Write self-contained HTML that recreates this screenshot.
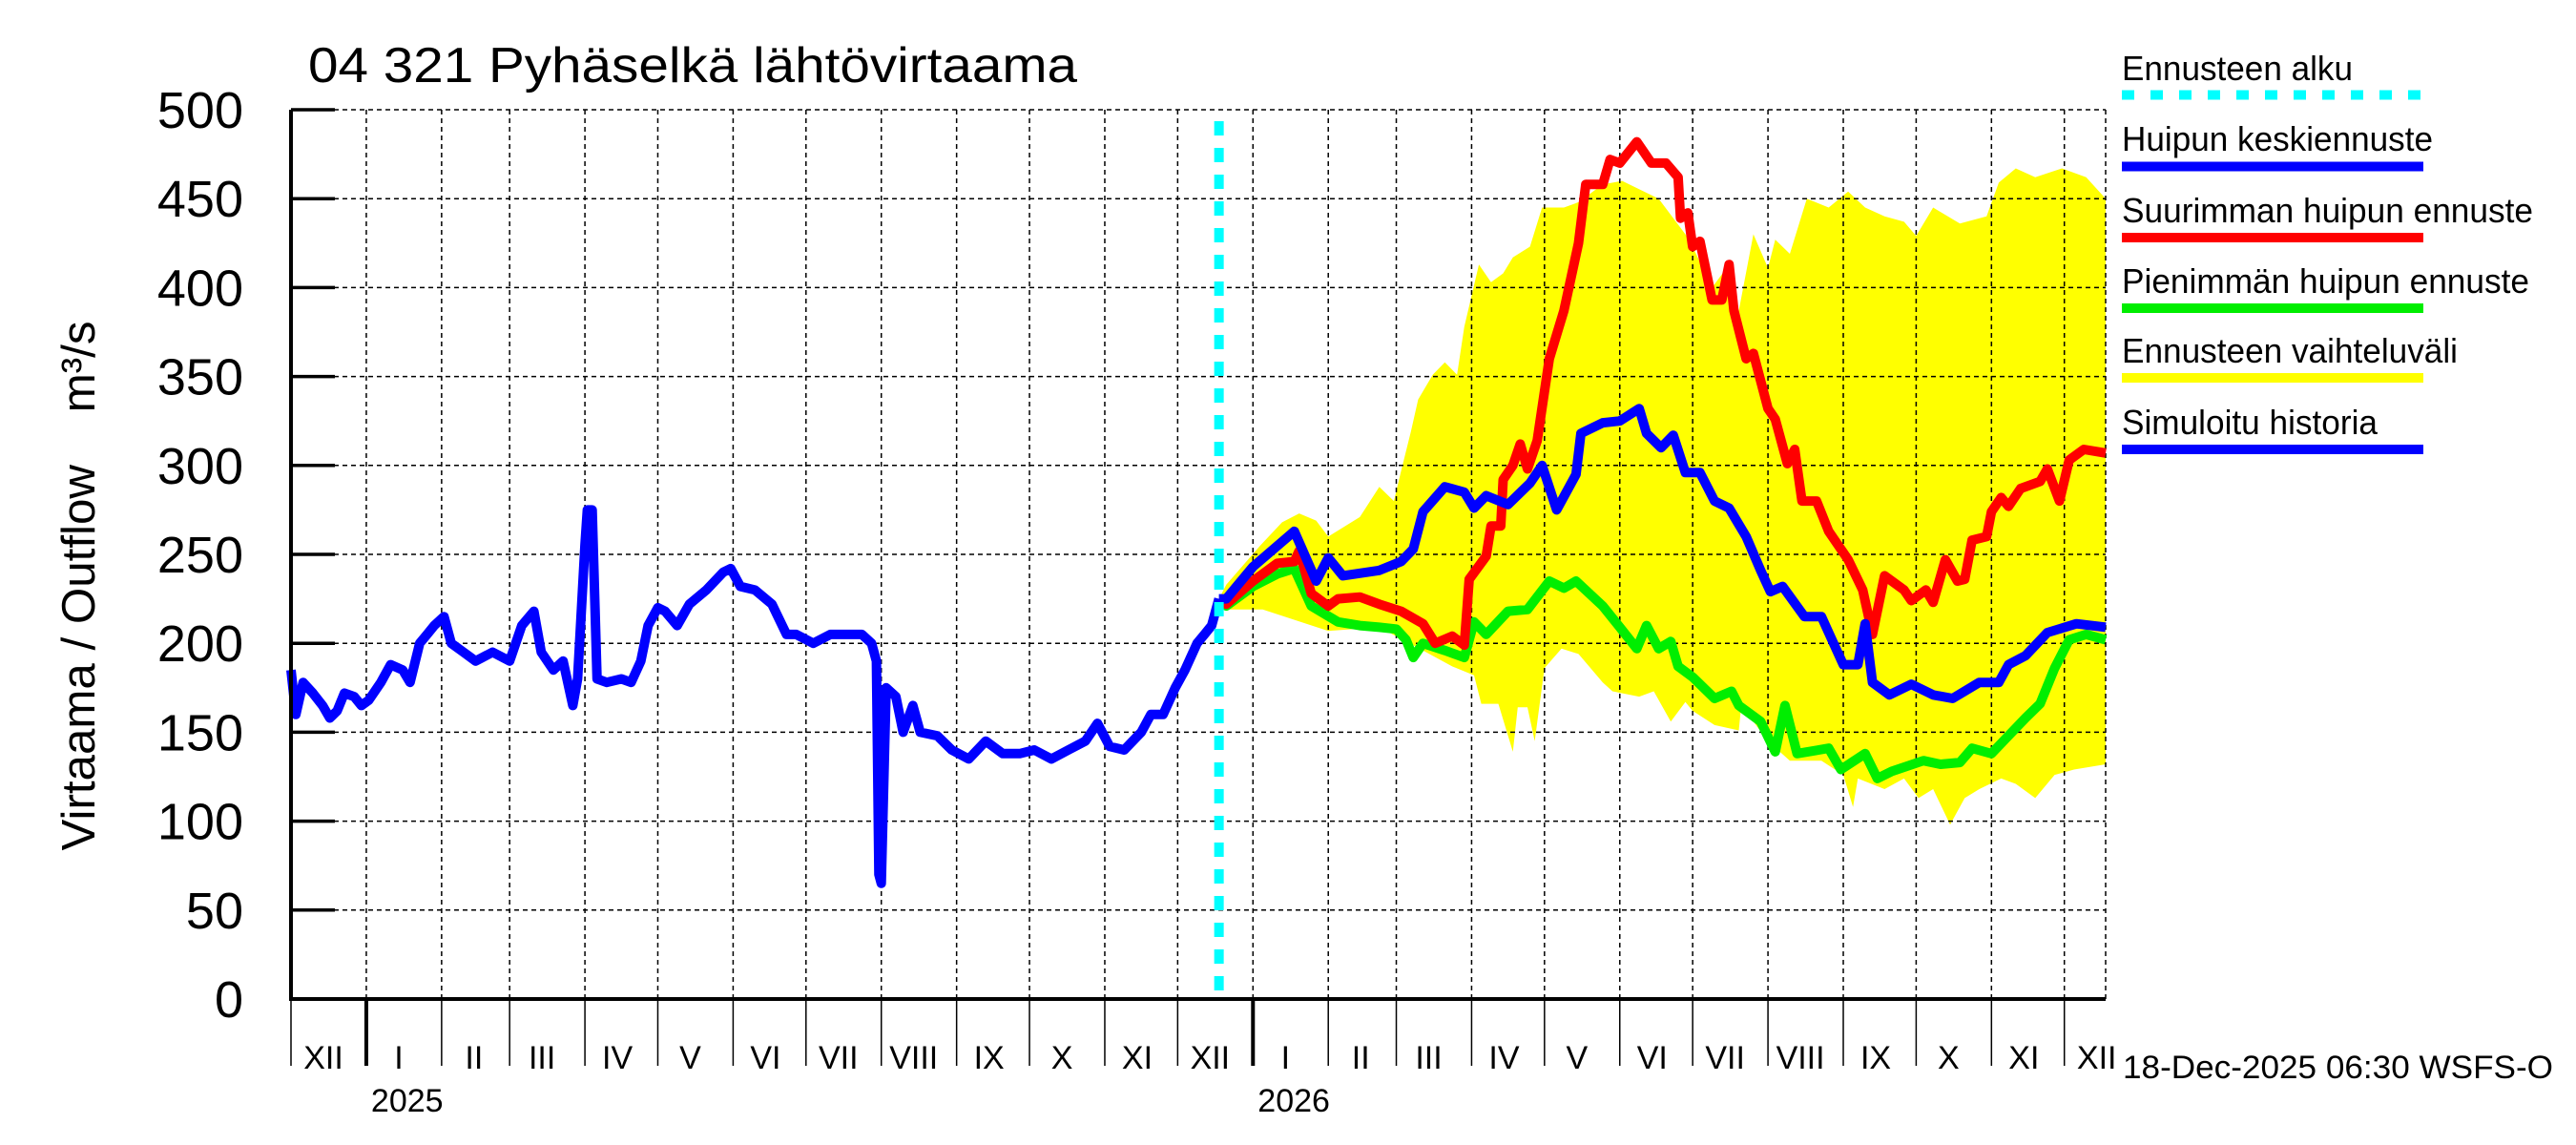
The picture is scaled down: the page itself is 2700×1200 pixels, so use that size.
<!DOCTYPE html>
<html><head><meta charset="utf-8"><style>
html,body{margin:0;padding:0;background:#fff;}
svg{display:block;font-family:"Liberation Sans",Arial,sans-serif;}
</style></head><body>
<svg id="chart" width="2700" height="1200" viewBox="0 0 2700 1200" xmlns="http://www.w3.org/2000/svg">
<rect x="0" y="0" width="2700" height="1200" fill="#fff"/>
<text x="323" y="86" font-size="52" textLength="806" lengthAdjust="spacingAndGlyphs">04 321 Pyhäselkä lähtövirtaama</text>
<text transform="translate(99,614) rotate(-90)" text-anchor="middle" font-size="49" textLength="555" lengthAdjust="spacingAndGlyphs" style="white-space:pre" xml:space="preserve">Virtaama / Outflow    m³/s</text>
<g id="band"></g>
<g id="grid"></g>
<g id="series"></g>
<g id="axes"></g>
<g id="legend">
<text x="2224" y="84" font-size="36" textLength="242" lengthAdjust="spacingAndGlyphs">Ennusteen alku</text>
<line x1="2224" y1="99.5" x2="2540" y2="99.5" stroke="#00ffff" stroke-width="10" stroke-dasharray="13,17"/>
<text x="2224" y="158" font-size="36" textLength="326" lengthAdjust="spacingAndGlyphs">Huipun keskiennuste</text>
<line x1="2224" y1="174.5" x2="2540" y2="174.5" stroke="#0000ff" stroke-width="10"/>
<text x="2224" y="233" font-size="36" textLength="431" lengthAdjust="spacingAndGlyphs">Suurimman huipun ennuste</text>
<line x1="2224" y1="249" x2="2540" y2="249" stroke="#ff0000" stroke-width="10"/>
<text x="2224" y="307" font-size="36" textLength="427" lengthAdjust="spacingAndGlyphs">Pienimmän huipun ennuste</text>
<line x1="2224" y1="323" x2="2540" y2="323" stroke="#00ee00" stroke-width="10"/>
<text x="2224" y="380" font-size="36" textLength="352" lengthAdjust="spacingAndGlyphs">Ennusteen vaihteluväli</text>
<line x1="2224" y1="396" x2="2540" y2="396" stroke="#ffff00" stroke-width="10"/>
<text x="2224" y="455" font-size="36" textLength="268" lengthAdjust="spacingAndGlyphs">Simuloitu historia</text>
<line x1="2224" y1="471" x2="2540" y2="471" stroke="#0000ff" stroke-width="10"/>
</g>
<text x="2225" y="1130" font-size="34" textLength="451" lengthAdjust="spacingAndGlyphs">18-Dec-2025 06:30 WSFS-O</text>
</svg>
<script>
// ---- data (day offsets from 1 Dec 2024, values m3/s) ----
const histDays = [0,2,5,9,13,16,19,22,26,29,32,37,41,46,49,53,56,59,63,66,71,76,83,90,95,100,103,108,112,116,118,121,122,124,126,130,136,140,144,147,151,154,159,164,171,178,181,185,191,198,204,208,215,222,229,235,239,241,242,243,245,249,252,256,259,266,272,279,286,293,300,306,313,320,327,332,337,343,350,354,359,364,368,373,376,379,382];
const histVals = [185,160,178,172,165,158,162,172,170,165,168,178,188,185,178,200,205,210,215,200,195,190,195,190,210,218,195,185,190,165,180,255,275,275,180,178,180,178,190,210,220,218,210,222,230,240,242,232,230,222,205,205,200,205,205,205,200,190,70,65,175,170,150,165,150,148,140,135,145,138,138,140,135,140,145,155,142,140,150,160,160,175,185,200,205,210,225];
const meanDays = [382,385,396,413,422,427,433,448,457,462,466,475,483,487,492,501,510,515,521,529,531,540,547,555,558,564,569,574,580,586,592,599,605,609,614,623,630,633,639,645,648,651,658,667,676,684,695,703,707,714,723,735,747];
const meanVals = [225,225,243,263,235,248,238,241,246,253,274,288,285,276,283,278,290,300,275,295,318,324,325,332,318,310,317,296,296,280,276,260,241,229,232,215,215,206,188,188,211,178,171,177,171,169,178,178,188,193,206,211,209];
const maxDays = [382,385,396,406,413,415,420,427,431,440,448,457,466,471,478,483,485,492,494,498,499,503,506,509,513,518,524,530,533,540,543,547,554,560,566,571,572,575,577,580,585,589,592,594,599,602,608,611,616,619,622,628,633,637,641,647,651,656,664,667,673,676,681,686,689,692,698,700,704,707,712,720,723,728,732,738,747];
const maxVals = [225,222,235,245,246,252,228,221,225,226,222,218,211,200,204,199,236,249,266,266,292,300,312,298,314,360,387,425,458,458,472,470,482,470,470,462,439,442,423,426,393,393,413,387,360,363,332,326,301,309,280,280,263,255,247,230,205,238,230,224,230,223,247,235,236,258,260,274,282,277,287,291,298,280,303,309,307];
const minDays = [382,385,396,406,413,420,431,440,448,455,459,462,466,475,483,487,492,501,509,518,524,529,540,547,554,558,563,568,571,577,586,593,596,605,611,615,620,633,638,648,653,659,672,679,687,692,700,707,714,720,726,732,739,747];
const minVals = [225,221,232,239,242,221,212,210,209,208,202,192,200,196,192,212,205,218,219,235,231,235,221,209,197,210,197,201,187,181,169,173,165,156,139,165,138,141,129,138,124,128,134,132,133,141,138,148,158,166,186,202,205,202];
const upDays = [382,385,399,408,415,422,427,440,448,454,457,461,464,470,475,480,483,489,494,499,503,510,515,524,530,540,548,563,574,577,585,592,596,602,608,611,617,624,633,641,648,656,664,669,676,687,698,703,710,718,729,739,747];
const upVals = [225,233,255,268,273,269,260,271,288,280,297,319,337,351,358,351,378,413,403,408,417,423,445,445,448,458,460,450,430,423,400,413,387,430,411,427,419,450,445,454,445,440,437,429,445,436,440,459,467,462,467,462,450];
const loDays = [382,385,400,427,448,466,478,487,490,497,503,505,509,512,516,523,530,540,544,555,561,568,574,577,586,596,597,608,617,630,639,643,645,656,664,670,676,683,689,695,704,710,718,726,734,747];
const loVals = [225,219,219,207,209,196,187,182,166,166,139,164,164,145,186,197,194,178,173,170,173,156,167,162,154,151,165,145,134,134,126,108,124,118,124,113,118,98,113,118,124,121,113,126,129,132];
const forecastStartDay = 382;
const monthStarts = [0,31,62,90,121,151,182,212,243,274,304,335,365,396,427,455,486,516,547,577,608,639,669,700,730];
const monthLabels = ["XII","I","II","III","IV","V","VI","VII","VIII","IX","X","XI","XII","I","II","III","IV","V","VI","VII","VIII","IX","X","XI","XII"];
const yearDays = [31,396];
const yearLabels = ["2025","2026"];
const yTicks = [0,50,100,150,200,250,300,350,400,450,500];

// ---- scales ----
const X0=305, X1=2207, Y0=1047, Y1=115, DMAX=747, VMAX=500;
const xs = d => X0 + d*(X1-X0)/DMAX;
const ys = v => Y0 - v*(Y0-Y1)/VMAX;
const NS="http://www.w3.org/2000/svg";
function mk(tag, attrs, parent){const e=document.createElementNS(NS,tag);for(const k in attrs)e.setAttribute(k,attrs[k]);parent.appendChild(e);return e;}
const grid=document.getElementById('grid'), axes=document.getElementById('axes'), series=document.getElementById('series'), band=document.getElementById('band');

// band
let pts=[];
for(let i=0;i<upDays.length;i++)pts.push(xs(upDays[i]).toFixed(1)+","+ys(upVals[i]).toFixed(1));
for(let i=loDays.length-1;i>=0;i--)pts.push(xs(loDays[i]).toFixed(1)+","+ys(loVals[i]).toFixed(1));
const bp=mk('polygon',{points:pts.join(' '),fill:'#ffff00',stroke:'none'},band);



// grid
yTicks.forEach(v=>{
  const g=mk('line',{x1:X0,x2:X1,y1:ys(v),y2:ys(v),stroke:'#000','stroke-width':1.5,'stroke-dasharray':'5,4'},grid);
  
  
});
monthStarts.forEach((d,i)=>{
  if(i===0)return;
  const g=mk('line',{x1:xs(d),x2:xs(d),y1:Y1,y2:Y0,stroke:'#000','stroke-width':1.5,'stroke-dasharray':'5,4'},grid);
  
  
});
const rg=mk('line',{x1:X1,x2:X1,y1:Y1,y2:Y0,stroke:'#000','stroke-width':1.5,'stroke-dasharray':'5,4'},grid);



// series
function line(days, vals, color, name){
  const p=days.map((d,i)=>xs(d).toFixed(1)+","+ys(vals[i]).toFixed(1)).join(' ');
  const e=mk('polyline',{points:p,fill:'none',stroke:color,'stroke-width':10,'stroke-linejoin':'round','stroke-linecap':'butt'},series);
  
  
}
line(minDays,minVals,'#00ee00','min-peak-forecast-line');
line(maxDays,maxVals,'#ff0000','max-peak-forecast-line');
line(meanDays,meanVals,'#0000ff','mean-peak-forecast-line');
line(histDays,histVals,'#0000ff','simulated-history-line');
const fl=mk('line',{x1:xs(forecastStartDay),x2:xs(forecastStartDay),y1:127,y2:Y0,stroke:'#00ffff','stroke-width':10,'stroke-dasharray':'15,13'},series);



// axes
const la=mk('line',{x1:X0,x2:X0,y1:Y1,y2:Y0+2,stroke:'#000','stroke-width':4},axes);


const ba=mk('line',{x1:X0-2,x2:X1,y1:Y0,y2:Y0,stroke:'#000','stroke-width':4},axes);


yTicks.forEach(v=>{
  const t=mk('line',{x1:X0,x2:X0+46,y1:ys(v),y2:ys(v),stroke:'#000','stroke-width':3.5},axes);
  
  
  const l=mk('text',{x:255,y:ys(v)+19,'text-anchor':'end','font-size':54},axes);
  l.textContent=String(v);
  
  
});
monthStarts.forEach((d,i)=>{
  const isYear=yearDays.indexOf(d)>=0;
  const t=mk('line',{x1:xs(d),x2:xs(d),y1:Y0,y2:1117,stroke:'#000','stroke-width':isYear?4:1.5},axes);
  
  
  const l=mk('text',{x:xs(d)+34,y:1120,'text-anchor':'middle','font-size':34},axes);
  l.textContent=monthLabels[i];
  
  
});
yearDays.forEach((d,i)=>{
  const l=mk('text',{x:xs(d)+5,y:1165,'font-size':34},axes);
  l.textContent=yearLabels[i];
  
  
});
</script>
</body></html>
